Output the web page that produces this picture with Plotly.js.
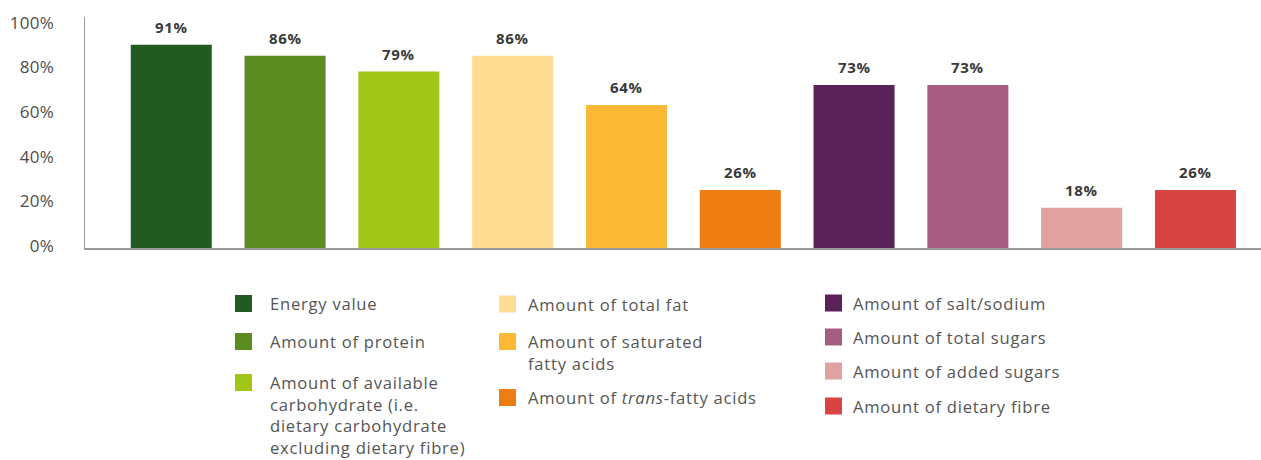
<!DOCTYPE html>
<html>
<head>
<meta charset="utf-8">
<script src="https://cdn.plot.ly/plotly-3.0.1.min.js"></script>
<style>
  html, body { margin: 0; padding: 0; background: #ffffff; }
  #chart { width: 1261px; height: 460px; }
  #chart .annotation text { letter-spacing: 0.75px; }
  #chart .ytick text { letter-spacing: 0.3px; }
</style>
</head>
<body>
<div id="chart"></div>
<script>
// ---- Data ----
const categories = [
  'Energy value',
  'Amount of protein',
  'Amount of available carbohydrate (i.e. dietary carbohydrate excluding dietary fibre)',
  'Amount of total fat',
  'Amount of saturated fatty acids',
  'Amount of trans-fatty acids',
  'Amount of salt/sodium',
  'Amount of total sugars',
  'Amount of added sugars',
  'Amount of dietary fibre'
];
const values = [91, 86, 79, 86, 64, 26, 73, 73, 18, 26];
const barColors = [
  '#215b22', '#5a8c22', '#a2c617', '#fedd92', '#fbb936',
  '#ee7d11', '#5b2259', '#a55e82', '#dfa2a0', '#d84444'
];
const legendLabels = [
  'Energy value',
  'Amount of protein',
  'Amount of available<br>carbohydrate (i.e.<br>dietary carbohydrate<br>excluding dietary fibre)',
  'Amount of total fat',
  'Amount of saturated<br>fatty acids',
  'Amount of <i>trans</i>-fatty acids',
  'Amount of salt/sodium',
  'Amount of total sugars',
  'Amount of added sugars',
  'Amount of dietary fibre'
];
const yTickVals = [0, 20, 40, 60, 80, 100];
const yTickText = ['0%', '20%', '40%', '60%', '80%', '100%'];

// ---- Layout geometry (pixels) ----
const W = 1261, H = 460;
const M = { l: 85, r: 0, t: 17, b: 212 };
const PW = W - M.l - M.r, PH = H - M.t - M.b;
const px2x = px => (px - M.l) / PW;
const py2y = py => (H - M.b - py) / PH;

// legend placement: swatch left x, text x, swatch center y per item
const legendPos = [
  [235, 269, 303.5], [235, 269, 341.5], [235, 269, 382.5],
  [499, 527, 304],   [499, 527, 341.5], [499, 527, 397.5],
  [825, 852, 303],   [825, 852, 337],   [825, 852, 371], [825, 852, 406]
];
const SW = 17;
const FONT = '"Open Sans", Lato, sans-serif';

const trace = {
  type: 'bar',
  x: categories,
  y: values,
  width: 0.712,
  marker: { color: barColors, line: { width: 0 } },
  hoverinfo: 'x+y',
  showlegend: false
};

const annotations = [];
const shapes = [];

categories.forEach((c, i) => {
  annotations.push({
    x: c, y: values[i], xref: 'x', yref: 'y',
    text: '<b>' + values[i] + '%</b>',
    showarrow: false, yanchor: 'middle', yshift: 18,
    font: { family: FONT, size: 15, color: '#3a3a3a' }
  });
  const [sx, tx, cy] = legendPos[i];
  shapes.push({
    type: 'rect', xref: 'paper', yref: 'paper',
    x0: px2x(sx), x1: px2x(sx + SW),
    y0: py2y(cy + SW / 2), y1: py2y(cy - SW / 2),
    fillcolor: barColors[i], line: { width: 0 }
  });
  annotations.push({
    x: px2x(tx), y: py2y(cy - 12.5), xref: 'paper', yref: 'paper',
    xanchor: 'left', yanchor: 'top', align: 'left',
    text: legendLabels[i], showarrow: false, borderpad: 0,
    font: { family: FONT, size: 16.6, color: '#555555' }
  });
});

const layout = {
  width: W, height: H,
  margin: M,
  paper_bgcolor: '#ffffff', plot_bgcolor: '#ffffff',
  showlegend: false,
  bargap: 0.288,
  xaxis: {
    type: 'category',
    range: [-0.758, 9.576],
    showticklabels: false, ticks: '',
    showgrid: false, zeroline: false,
    showline: true, linecolor: '#9a9a9a', linewidth: 2,
    fixedrange: true
  },
  yaxis: {
    range: [0, 103.4],
    tickmode: 'array',
    tickvals: yTickVals,
    ticktext: yTickText,
    ticks: '',
    ticklabelstandoff: 26,
    ticklabelshift: -2,
    showgrid: false, zeroline: false,
    showline: true, linecolor: '#9a9a9a', linewidth: 1.5,
    tickfont: { family: FONT, size: 17, color: '#4d4d4d' },
    fixedrange: true
  },
  annotations: annotations,
  shapes: shapes,
  font: { family: FONT }
};

Plotly.newPlot('chart', [trace], layout, { displayModeBar: false, staticPlot: true });
</script>
</body>
</html>
